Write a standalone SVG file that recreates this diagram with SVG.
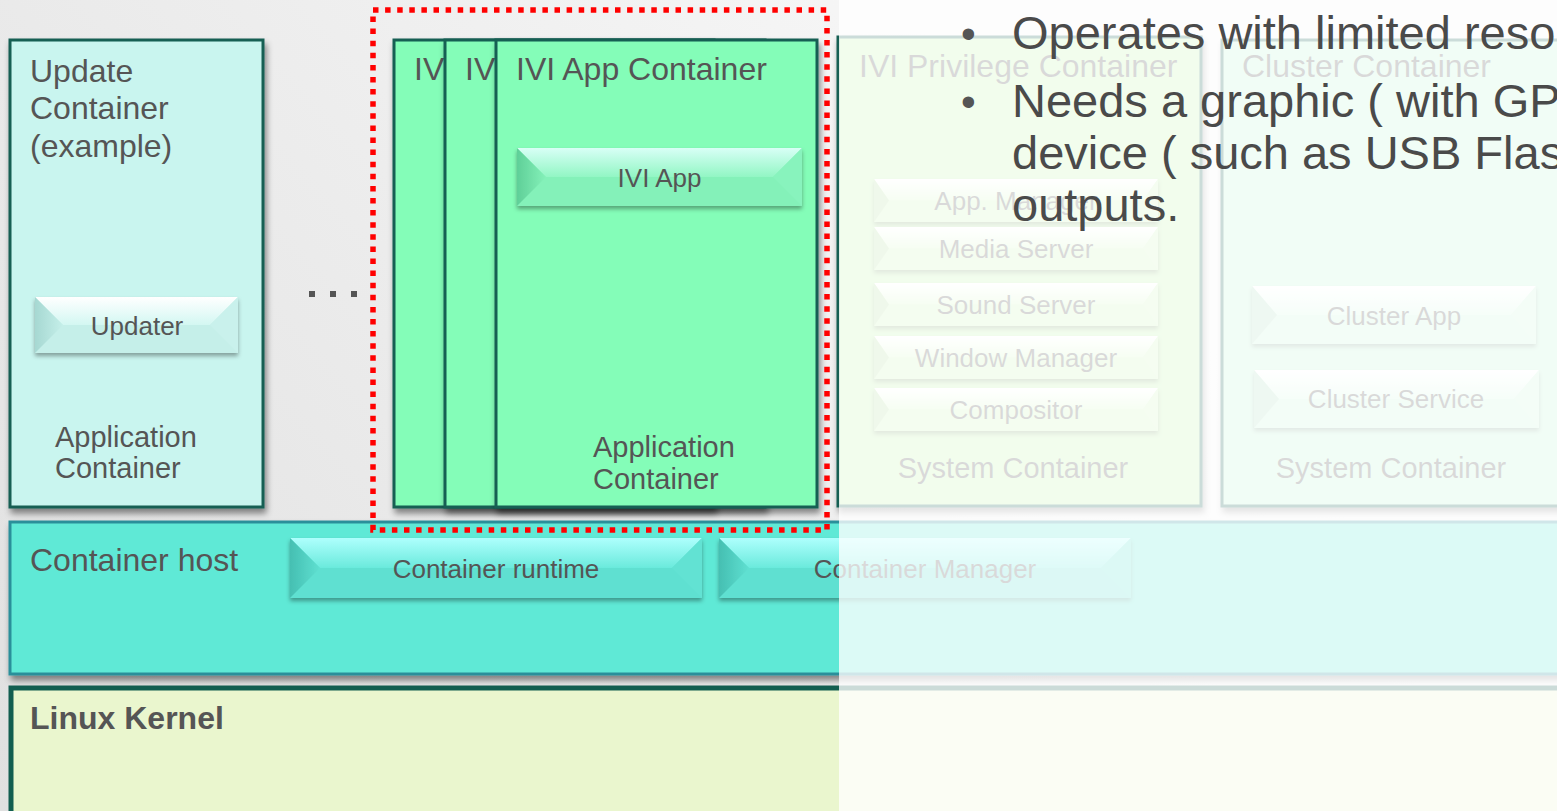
<svg xmlns="http://www.w3.org/2000/svg" width="1557" height="811" viewBox="0 0 1557 811">
<defs>
<style>
.t{font-family:"Liberation Sans",Arial,Helvetica,sans-serif;fill:#555555}
.c{text-anchor:middle}
.f32{font-size:32px}
.f29{font-size:29px}
.f26{font-size:26px}
.box{stroke:#145f53;stroke-width:3}
.b{font-family:"Liberation Sans",Arial,Helvetica,sans-serif;fill:#4a4a4a;font-size:47px}
.bd{font-family:"Liberation Sans",Arial,Helvetica,sans-serif;fill:#555555;font-size:42px}
</style>
<linearGradient id="bg" gradientUnits="userSpaceOnUse" x1="0" y1="811" x2="900" y2="0">
<stop offset="0" stop-color="#e0e0e0"/><stop offset="1" stop-color="#f6f6f6"/>
</linearGradient>
<linearGradient id="gUpd" x1="0" y1="0" x2="0" y2="1"><stop offset="0" stop-color="#ffffff"/><stop offset="1" stop-color="#d3f7f2"/></linearGradient>
<linearGradient id="gUpdL" x1="0" y1="0" x2="1" y2="0"><stop offset="0" stop-color="#a6d8d2"/><stop offset="1" stop-color="#c5efe9"/></linearGradient>
<linearGradient id="gIvi" x1="0" y1="0" x2="0" y2="1"><stop offset="0" stop-color="#d8fff6"/><stop offset="1" stop-color="#92f6c4"/></linearGradient>
<linearGradient id="gIviL" x1="0" y1="0" x2="1" y2="0"><stop offset="0" stop-color="#5fcf98"/><stop offset="1" stop-color="#84f1b9"/></linearGradient>
<linearGradient id="gHost" x1="0" y1="0" x2="0" y2="1"><stop offset="0" stop-color="#aefffd"/><stop offset="1" stop-color="#6aeadc"/></linearGradient>
<linearGradient id="gHostL" x1="0" y1="0" x2="1" y2="0"><stop offset="0" stop-color="#45bfb2"/><stop offset="1" stop-color="#5fe0d1"/></linearGradient>
<linearGradient id="gPriv" x1="0" y1="0" x2="0" y2="1"><stop offset="0" stop-color="#ffffff"/><stop offset="1" stop-color="#d6f8c6"/></linearGradient>
<linearGradient id="gClus" x1="0" y1="0" x2="0" y2="1"><stop offset="0" stop-color="#ffffff"/><stop offset="1" stop-color="#d4f8e2"/></linearGradient>
<filter id="sh" x="-10%" y="-10%" width="130%" height="130%"><feDropShadow dx="2" dy="5" stdDeviation="3" flood-color="#000" flood-opacity="0.45"/></filter>
<filter id="bsh" x="-10%" y="-20%" width="120%" height="150%"><feDropShadow dx="0" dy="3" stdDeviation="2" flood-color="#000" flood-opacity="0.35"/></filter>
</defs>

<rect x="0" y="0" width="1557" height="811" fill="url(#bg)"/>

<g id="linux-kernel">
<rect x="11" y="688" width="1560" height="130" fill="#eaf6ce" stroke="#125e50" stroke-width="5"/>
<text class="t f32" x="30" y="729" font-weight="bold">Linux Kernel</text>
</g>

<g id="container-host">
<rect x="10" y="522" width="1560" height="152" fill="#5fe9d6" stroke="#2b8f9a" stroke-width="3" filter="url(#sh)"/>
<text class="t f32" x="30" y="571">Container host</text>
</g>

<g id="container-runtime">
<g filter="url(#bsh)">
<rect x="290" y="538" width="412" height="60" fill="#5fe0d1"/>
<polygon points="290,538 702,538 672,568 320,568" fill="url(#gHost)"/>
<polygon points="290,538 320,568 290,598" fill="url(#gHostL)"/>
<polygon points="702,538 672,568 702,598" fill="#62e2d3"/>
</g>
<text class="t f26 c" x="496" y="578">Container runtime</text>
</g>

<g id="container-manager">
<g filter="url(#bsh)">
<rect x="719" y="538" width="412" height="60" fill="#5fe0d1"/>
<polygon points="719,538 1131,538 1101,568 749,568" fill="url(#gHost)"/>
<polygon points="719,538 749,568 719,598" fill="url(#gHostL)"/>
<polygon points="1131,538 1101,568 1131,598" fill="#62e2d3"/>
</g>
<text class="t f26 c" x="925" y="578">Container Manager</text>
</g>

<g id="update-container">
<rect x="10" y="40" width="253" height="467" fill="#c9f5ef" class="box" filter="url(#sh)"/>
<text class="t f32" x="30" y="82">Update</text>
<text class="t f32" x="30" y="119">Container</text>
<text class="t f32" x="30" y="157">(example)</text>
<text class="t f29" x="55" y="447">Application</text>
<text class="t f29" x="55" y="478">Container</text>
</g>

<g id="updater">
<g filter="url(#bsh)">
<rect x="35" y="297" width="203" height="56" fill="#c5efe9"/>
<polygon points="35,297 238,297 210,325 63,325" fill="url(#gUpd)"/>
<polygon points="35,297 63,325 35,353" fill="url(#gUpdL)"/>
<polygon points="238,297 210,325 238,353" fill="#c9f1ec"/>
</g>
<text class="t f26 c" x="137" y="335">Updater</text>
</g>

<g id="ellipsis" fill="#555555">
<rect x="309" y="291" width="6" height="6"/>
<rect x="330" y="291" width="6" height="6"/>
<rect x="351" y="291" width="6" height="6"/>
</g>

<g id="ivi-container-1">
<rect x="394" y="40" width="320" height="467" fill="#84fdb8" class="box" filter="url(#sh)"/>
<text class="t f32" x="414" y="80">IV</text>
</g>
<g id="ivi-container-2">
<rect x="445" y="40" width="320" height="467" fill="#84fdb8" class="box" filter="url(#sh)"/>
<text class="t f32" x="465" y="80">IV</text>
</g>
<g id="ivi-app-container">
<rect x="496" y="40" width="321" height="467" fill="#84fdb8" class="box" filter="url(#sh)"/>
<text class="t f32" x="516" y="80">IVI App Container</text>
<text class="t f29" x="593" y="457">Application</text>
<text class="t f29" x="593" y="489">Container</text>
</g>

<g id="ivi-app">
<g filter="url(#bsh)">
<rect x="517" y="148" width="285" height="58" fill="#84f1b9"/>
<polygon points="517,148 802,148 773,177 546,177" fill="url(#gIvi)"/>
<polygon points="517,148 546,177 517,206" fill="url(#gIviL)"/>
<polygon points="802,148 773,177 802,206" fill="#88f3bd"/>
</g>
<text class="t f26 c" x="659.5" y="187">IVI App</text>
</g>

<g id="ivi-privilege-container">
<rect x="838" y="37" width="363" height="469" fill="#c2f4ac" class="box" filter="url(#sh)"/>
<text class="t f32" x="859" y="77">IVI Privilege Container</text>
<text class="t f29 c" x="1013" y="478">System Container</text>
</g>

<g id="priv-buttons">
<g id="app-manager">
<g filter="url(#bsh)">
<rect x="874" y="179" width="284" height="43" fill="#cdf3ba"/>
<polygon points="874,179 1158,179 1143,200.5 889,200.5" fill="url(#gPriv)"/>
<polygon points="874,179 889,200.5 874,222" fill="#b8e0a4"/>
<polygon points="1158,179 1143,200.5 1158,222" fill="#d0f4be"/>
</g>
<text class="t f26 c" x="1016" y="210">App. Manager</text>
</g>
<g id="media-server">
<g filter="url(#bsh)">
<rect x="874" y="227" width="284" height="43" fill="#cdf3ba"/>
<polygon points="874,227 1158,227 1143,248.5 889,248.5" fill="url(#gPriv)"/>
<polygon points="874,227 889,248.5 874,270" fill="#b8e0a4"/>
<polygon points="1158,227 1143,248.5 1158,270" fill="#d0f4be"/>
</g>
<text class="t f26 c" x="1016" y="258">Media Server</text>
</g>
<g id="sound-server">
<g filter="url(#bsh)">
<rect x="874" y="283" width="284" height="43" fill="#cdf3ba"/>
<polygon points="874,283 1158,283 1143,304.5 889,304.5" fill="url(#gPriv)"/>
<polygon points="874,283 889,304.5 874,326" fill="#b8e0a4"/>
<polygon points="1158,283 1143,304.5 1158,326" fill="#d0f4be"/>
</g>
<text class="t f26 c" x="1016" y="314">Sound Server</text>
</g>
<g id="window-manager">
<g filter="url(#bsh)">
<rect x="874" y="336" width="284" height="43" fill="#cdf3ba"/>
<polygon points="874,336 1158,336 1143,357.5 889,357.5" fill="url(#gPriv)"/>
<polygon points="874,336 889,357.5 874,379" fill="#b8e0a4"/>
<polygon points="1158,336 1143,357.5 1158,379" fill="#d0f4be"/>
</g>
<text class="t f26 c" x="1016" y="367">Window Manager</text>
</g>
<g id="compositor">
<g filter="url(#bsh)">
<rect x="874" y="388" width="284" height="43" fill="#cdf3ba"/>
<polygon points="874,388 1158,388 1143,409.5 889,409.5" fill="url(#gPriv)"/>
<polygon points="874,388 889,409.5 874,431" fill="#b8e0a4"/>
<polygon points="1158,388 1143,409.5 1158,431" fill="#d0f4be"/>
</g>
<text class="t f26 c" x="1016" y="419">Compositor</text>
</g>
</g>

<g id="cluster-container">
<rect x="1222" y="40" width="360" height="466" fill="#c0f5d6" class="box" filter="url(#sh)"/>
<text class="t f32" x="1242" y="77">Cluster Container</text>
<text class="t f29 c" x="1391" y="478">System Container</text>
</g>

<g id="cluster-app">
<g filter="url(#bsh)">
<rect x="1252" y="286" width="284" height="58" fill="#c8f3d8"/>
<polygon points="1252,286 1536,286 1511,315 1277,315" fill="url(#gClus)"/>
<polygon points="1252,286 1277,315 1252,344" fill="#b2dec4"/>
<polygon points="1536,286 1511,315 1536,344" fill="#ccf4dc"/>
</g>
<text class="t f26 c" x="1394" y="325">Cluster App</text>
</g>
<g id="cluster-service">
<g filter="url(#bsh)">
<rect x="1254" y="370" width="285" height="58" fill="#c8f3d8"/>
<polygon points="1254,370 1539,370 1514,399 1279,399" fill="url(#gClus)"/>
<polygon points="1254,370 1279,399 1254,428" fill="#b2dec4"/>
<polygon points="1539,370 1514,399 1539,428" fill="#ccf4dc"/>
</g>
<text class="t f26 c" x="1396" y="408">Cluster Service</text>
</g>

<g id="highlight">
<rect x="373" y="10" width="454" height="520" fill="none" stroke="#ff0000" stroke-width="5.5" stroke-dasharray="5.5 6.6"/>
</g>

<rect id="overlay" x="839" y="0" width="718" height="811" fill="#ffffff" fill-opacity="0.78"/>

<g id="bullets">
<text class="bd" x="961" y="48">•</text>
<text class="b" x="1012" y="49">Operates with limited reso</text>
<text class="bd" x="961" y="116">•</text>
<text class="b" x="1012" y="117">Needs a graphic ( with GP</text>
<text class="b" x="1012" y="169">device ( such as USB Flas</text>
<text class="b" x="1012" y="221">outputs.</text>
</g>
</svg>
